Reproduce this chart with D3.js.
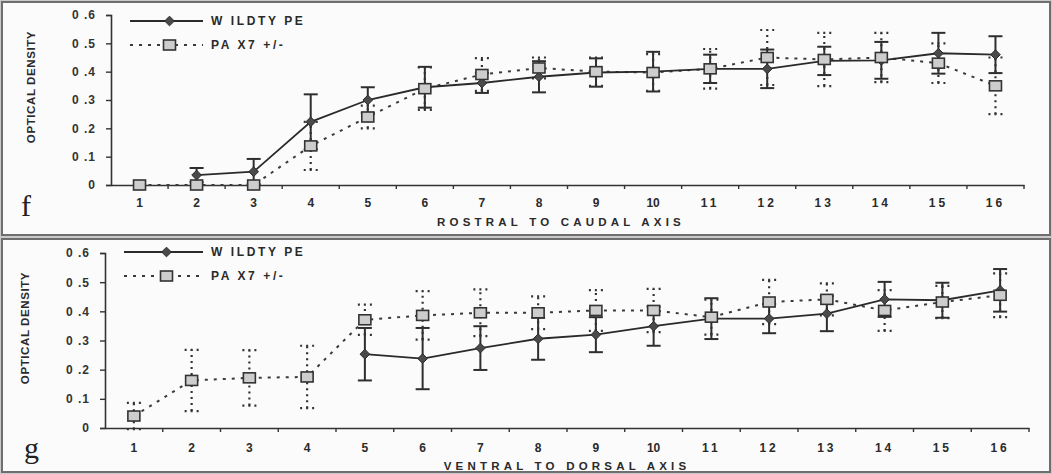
<!DOCTYPE html>
<html>
<head>
<meta charset="utf-8">
<script src="https://cdn.jsdelivr.net/npm/d3@7"></script>
<style>
  html, body { margin: 0; padding: 0; background: #c9c9c9; }
  svg { display: block; }
  text { font-family: "Liberation Sans", Arial, sans-serif; font-weight: bold; fill: #2a2a2a; }
  text.panel-letter { font-family: "Liberation Serif", "Times New Roman", serif; font-weight: normal; fill: #222; }
</style>
</head>
<body>
<div id="chart"></div>
<script>
const categories = [1, 2, 3, 4, 5, 6, 7, 8, 9, 10, 11, 12, 13, 14, 15, 16];
const yTicks = [0, 0.1, 0.2, 0.3, 0.4, 0.5, 0.6];
const yTickLabels = ["0", "0 .1", "0 .2", "0 .3", "0 .4", "0 .5", "0 .6"];
const seriesNames = ["W ILDTY PE", "PA X7 +/-"];

// panel f: rostral to caudal
const rostralWild = [null, 0.035, 0.047, 0.223, 0.30, 0.345, 0.36, 0.382, 0.397, 0.40, 0.41, 0.41, 0.438, 0.44, 0.465, 0.46];
const rostralWildErr = [null, 0.025, 0.045, 0.097, 0.045, 0.072, 0.035, 0.055, 0.05, 0.07, 0.05, 0.068, 0.05, 0.065, 0.072, 0.065];
const rostralPax = [0, 0, 0, 0.138, 0.24, 0.34, 0.39, 0.413, 0.40, 0.397, 0.41, 0.45, 0.443, 0.45, 0.43, 0.35];
const rostralPaxErr = [0, 0, 0, 0.085, 0.04, 0.075, 0.058, 0.037, 0.05, 0.065, 0.07, 0.097, 0.094, 0.087, 0.07, 0.10];

// panel g: ventral to dorsal
const ventralWild = [null, null, null, null, 0.253, 0.238, 0.274, 0.306, 0.32, 0.349, 0.375, 0.375, 0.392, 0.441, 0.438, 0.472];
const ventralWildErr = [null, null, null, null, 0.09, 0.105, 0.075, 0.072, 0.06, 0.067, 0.07, 0.05, 0.06, 0.06, 0.06, 0.073];
const ventralPax = [0.041, 0.163, 0.172, 0.175, 0.371, 0.386, 0.395, 0.395, 0.403, 0.403, 0.38, 0.432, 0.441, 0.403, 0.432, 0.455];
const ventralPaxErr = [0.045, 0.105, 0.095, 0.107, 0.052, 0.083, 0.08, 0.056, 0.07, 0.074, 0.06, 0.076, 0.055, 0.07, 0.055, 0.075];

const width = 1052;
const height = 474;

const svg = d3.select("#chart")
  .append("svg")
  .attr("width", width)
  .attr("height", height)
  .attr("viewBox", `0 0 ${width} ${height}`);

const panels = [
  {
    letter: "f", title: "ROSTRAL TO CAUDAL AXIS",
    wild: rostralWild, wildErr: rostralWildErr, pax: rostralPax, paxErr: rostralPaxErr,
    box: [2, 2, 1048, 233], x: [111, 1024], y: [185, 15],
    tickY: 207, titleY: 226, titleX: 561, yTitle: [35, 87], letterPos: [21, 216], legendY: [21, 45]
  },
  {
    letter: "g", title: "VENTRAL TO DORSAL AXIS",
    wild: ventralWild, wildErr: ventralWildErr, pax: ventralPax, paxErr: ventralPaxErr,
    box: [2, 239, 1048, 233], x: [105, 1029], y: [428, 253],
    tickY: 452, titleY: 470, titleX: 567, yTitle: [29, 328], letterPos: [24, 458], legendY: [252, 276]
  }
];

panels.forEach((p) => drawPanel(p));

function drawPanel(p) {
  const g = svg.append("g");

  g.append("rect")
    .attr("x", p.box[0])
    .attr("y", p.box[1])
    .attr("width", p.box[2])
    .attr("height", p.box[3])
    .attr("fill", "#fbfbfb")
    .attr("stroke", "#6e6e6e")
    .attr("stroke-width", 2);

  const x = d3.scaleBand()
    .domain(categories)
    .range(p.x)
    .padding(0);

  const y = d3.scaleLinear()
    .domain([0, 0.6])
    .range(p.y);

  const cx = (c) => x(c) + x.bandwidth() / 2;

  // y axis
  g.append("g")
    .attr("transform", `translate(${p.x[0]},0)`)
    .call(d3.axisLeft(y).tickValues(yTicks).tickSize(5).tickPadding(10)
      .tickFormat((d, i) => yTickLabels[i]))
    .call((a) => a.select(".domain").attr("stroke", "#333").attr("stroke-width", 1.6))
    .call((a) => a.selectAll(".tick line").attr("stroke", "#333").attr("stroke-width", 1.4))
    .call((a) => a.selectAll(".tick text")
      .attr("font-size", 12).style("fill", "#333").style("letter-spacing", "1px"));

  // x axis
  g.append("g")
    .attr("transform", `translate(0,${p.y[0]})`)
    .call(d3.axisBottom(x).tickSize(0).tickFormat(""))
    .call((a) => a.select(".domain").attr("stroke", "#333").attr("stroke-width", 1.6));

  g.selectAll("line.xtick")
    .data(categories.slice(1).concat(["end"]))
    .enter()
    .append("line")
    .attr("class", "xtick")
    .attr("x1", (d) => d === "end" ? p.x[1] : x(d))
    .attr("x2", (d) => d === "end" ? p.x[1] : x(d))
    .attr("y1", p.y[0])
    .attr("y2", p.y[0] + 4)
    .attr("stroke", "#333")
    .attr("stroke-width", 1.4);

  g.selectAll("text.xlabel")
    .data(categories)
    .enter()
    .append("text")
    .attr("class", "xlabel")
    .attr("x", (d) => cx(d))
    .attr("y", p.tickY)
    .attr("text-anchor", "middle")
    .attr("font-size", 12)
    .style("letter-spacing", (d) => d > 10 ? "3px" : "0px")
    .text((d) => d);

  g.append("text")
    .attr("x", p.titleX)
    .attr("y", p.titleY)
    .attr("text-anchor", "middle")
    .attr("font-size", 11.5)
    .style("letter-spacing", "4.2px")
    .text(p.title);

  g.append("text")
    .attr("transform", `translate(${p.yTitle[0]},${p.yTitle[1]}) rotate(-90)`)
    .attr("text-anchor", "middle")
    .attr("font-size", 11.5)
    .style("letter-spacing", "0.6px")
    .text("OPTICAL DENSITY");

  g.append("text")
    .attr("class", "panel-letter")
    .attr("x", p.letterPos[0])
    .attr("y", p.letterPos[1])
    .attr("font-size", 30)
    .text(p.letter);

  const wild = categories.map((c, i) => ({ c, v: p.wild[i], e: p.wildErr[i] })).filter((d) => d.v != null);
  const pax = categories.map((c, i) => ({ c, v: p.pax[i], e: p.paxErr[i] }));

  const line = d3.line().x((d) => cx(d.c)).y((d) => y(d.v));
  const capW = 14;

  // wildtype error bars
  const wErr = g.append("g").attr("stroke", "#2e2e2e").attr("stroke-width", 2);
  wild.filter((d) => d.e > 0).forEach((d) => {
    wErr.append("line").attr("x1", cx(d.c)).attr("x2", cx(d.c)).attr("y1", y(d.v - d.e)).attr("y2", y(d.v + d.e));
    [d.v - d.e, d.v + d.e].forEach((v) => {
      wErr.append("line").attr("x1", cx(d.c) - capW / 2).attr("x2", cx(d.c) + capW / 2).attr("y1", y(v)).attr("y2", y(v));
    });
  });

  // pax error bars (dotted)
  const pErr = g.append("g").attr("stroke", "#333").attr("stroke-width", 2.2).attr("stroke-dasharray", "2,4");
  pax.filter((d) => d.e > 0).forEach((d) => {
    pErr.append("line").attr("x1", cx(d.c)).attr("x2", cx(d.c)).attr("y1", y(d.v - d.e)).attr("y2", y(d.v + d.e));
    [d.v - d.e, d.v + d.e].forEach((v) => {
      pErr.append("line").attr("x1", cx(d.c) - capW / 2).attr("x2", cx(d.c) + capW / 2).attr("y1", y(v)).attr("y2", y(v));
    });
  });

  g.append("path")
    .datum(pax)
    .attr("d", line)
    .attr("fill", "none")
    .attr("stroke", "#3a3a3a")
    .attr("stroke-width", 2)
    .attr("stroke-dasharray", "3,6");

  g.append("path")
    .datum(wild)
    .attr("d", line)
    .attr("fill", "none")
    .attr("stroke", "#2a2a2a")
    .attr("stroke-width", 1.8);

  const diamond = d3.symbol().type(d3.symbolDiamond2).size(60);

  g.selectAll("path.wdot")
    .data(wild)
    .enter()
    .append("path")
    .attr("class", "wdot")
    .attr("transform", (d) => `translate(${cx(d.c)},${y(d.v)})`)
    .attr("d", diamond)
    .attr("fill", "#4a4a4a")
    .attr("stroke", "#2a2a2a")
    .attr("stroke-width", 1);

  g.selectAll("rect.pdot")
    .data(pax)
    .enter()
    .append("rect")
    .attr("class", "pdot")
    .attr("x", (d) => cx(d.c) - 6)
    .attr("y", (d) => y(d.v) - 5)
    .attr("width", 12)
    .attr("height", 10)
    .attr("fill", "#cdcdcd")
    .attr("stroke", "#333")
    .attr("stroke-width", 1.6);

  // legend
  const legend = g.append("g");
  const lx0 = p.x[0] + 19;
  const lx1 = 203;
  const lmid = (lx0 + lx1) / 2 + 3;

  legend.append("line")
    .attr("x1", lx0).attr("x2", lx1).attr("y1", p.legendY[0]).attr("y2", p.legendY[0])
    .attr("stroke", "#2a2a2a").attr("stroke-width", 1.8);
  legend.append("path")
    .attr("transform", `translate(${lmid},${p.legendY[0]})`)
    .attr("d", diamond)
    .attr("fill", "#4a4a4a").attr("stroke", "#2a2a2a");

  legend.append("line")
    .attr("x1", lx0).attr("x2", lx1).attr("y1", p.legendY[1]).attr("y2", p.legendY[1])
    .attr("stroke", "#3a3a3a").attr("stroke-width", 2).attr("stroke-dasharray", "3,6");
  legend.append("rect")
    .attr("x", lmid - 6).attr("y", p.legendY[1] - 5).attr("width", 12).attr("height", 10)
    .attr("fill", "#cdcdcd").attr("stroke", "#333").attr("stroke-width", 1.6);

  seriesNames.forEach((name, i) => {
    legend.append("text")
      .attr("x", 211)
      .attr("y", p.legendY[i] + 4)
      .attr("font-size", 12)
      .style("letter-spacing", "2.6px")
      .text(name);
  });
}
</script>
</body>
</html>
